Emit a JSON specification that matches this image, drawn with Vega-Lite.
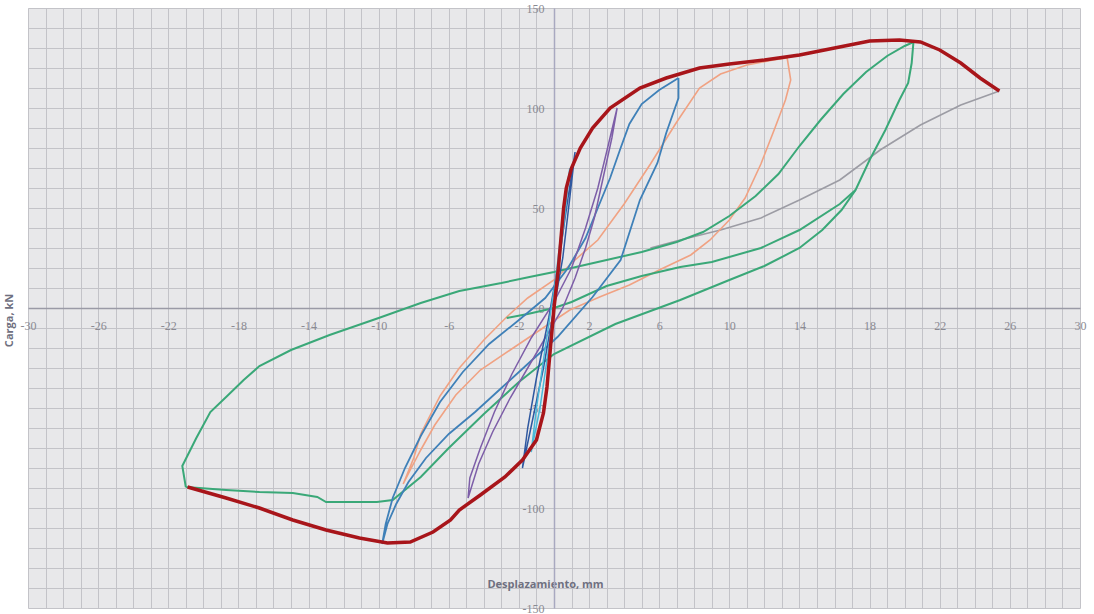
{
  "$schema": "https://vega.github.io/schema/vega-lite/v6.json",
  "width": 1052,
  "height": 600,
  "autosize": {"type": "none"},
  "padding": {"left": 28, "top": 8, "right": 14, "bottom": 6},
  "background": "#ffffff",
  "config": {"view": {"fill": "#e8e8ea", "stroke": null}},
  "datasets": {
    "curves": [
      {"s": "green", "i": 1, "x": -21.0, "y": -89.5},
      {"s": "green", "i": 2, "x": -21.2, "y": -79},
      {"s": "green", "i": 3, "x": -20.4, "y": -65},
      {"s": "green", "i": 4, "x": -19.6, "y": -52},
      {"s": "green", "i": 5, "x": -18.7, "y": -44.5},
      {"s": "green", "i": 6, "x": -17.7, "y": -36},
      {"s": "green", "i": 7, "x": -16.8, "y": -29},
      {"s": "green", "i": 8, "x": -15.0, "y": -21},
      {"s": "green", "i": 9, "x": -12.8, "y": -13.5},
      {"s": "green", "i": 10, "x": -10.0, "y": -5},
      {"s": "green", "i": 11, "x": -7.6, "y": 2.5},
      {"s": "green", "i": 12, "x": -5.4, "y": 8.5},
      {"s": "green", "i": 13, "x": -3.0, "y": 12.5},
      {"s": "green", "i": 14, "x": -1.4, "y": 15.5},
      {"s": "green", "i": 15, "x": 0.0, "y": 18},
      {"s": "green", "i": 16, "x": 2.5, "y": 23},
      {"s": "green", "i": 17, "x": 5.0, "y": 28},
      {"s": "green", "i": 18, "x": 7.0, "y": 33},
      {"s": "green", "i": 19, "x": 8.5, "y": 38},
      {"s": "green", "i": 20, "x": 10.0, "y": 46},
      {"s": "green", "i": 21, "x": 11.5, "y": 56},
      {"s": "green", "i": 22, "x": 12.8, "y": 67},
      {"s": "green", "i": 23, "x": 14.0, "y": 81},
      {"s": "green", "i": 24, "x": 15.2, "y": 94},
      {"s": "green", "i": 25, "x": 16.5, "y": 107},
      {"s": "green", "i": 26, "x": 17.8, "y": 118},
      {"s": "green", "i": 27, "x": 19.0, "y": 126},
      {"s": "green", "i": 28, "x": 20.0, "y": 131},
      {"s": "green", "i": 29, "x": 20.5, "y": 133},
      {"s": "green", "i": 30, "x": 20.4, "y": 122.5},
      {"s": "green", "i": 31, "x": 20.2, "y": 112.5},
      {"s": "green", "i": 32, "x": 19.7, "y": 104},
      {"s": "green", "i": 33, "x": 18.9, "y": 89},
      {"s": "green", "i": 34, "x": 18.0, "y": 74},
      {"s": "green", "i": 35, "x": 17.2, "y": 59},
      {"s": "green", "i": 36, "x": 16.4, "y": 49},
      {"s": "green", "i": 37, "x": 15.3, "y": 39},
      {"s": "green", "i": 38, "x": 14.0, "y": 30},
      {"s": "green", "i": 39, "x": 12.0, "y": 21},
      {"s": "green", "i": 40, "x": 10.0, "y": 14},
      {"s": "green", "i": 41, "x": 7.2, "y": 4},
      {"s": "green", "i": 42, "x": 3.5, "y": -8},
      {"s": "green", "i": 43, "x": 0.0, "y": -23},
      {"s": "green", "i": 44, "x": -2.0, "y": -37},
      {"s": "green", "i": 45, "x": -4.0, "y": -53},
      {"s": "green", "i": 46, "x": -6.0, "y": -70},
      {"s": "green", "i": 47, "x": -7.6, "y": -84.5},
      {"s": "green", "i": 48, "x": -9.2, "y": -96},
      {"s": "green", "i": 49, "x": -10.1, "y": -97},
      {"s": "green", "i": 50, "x": -13.0, "y": -97},
      {"s": "green", "i": 51, "x": -13.5, "y": -94.5},
      {"s": "green", "i": 52, "x": -14.9, "y": -92.5},
      {"s": "green", "i": 53, "x": -16.8, "y": -92},
      {"s": "green", "i": 54, "x": -18.7, "y": -91},
      {"s": "green", "i": 55, "x": -21.0, "y": -89.5}
    ],
    "curves2": [
      {"s": "green2", "i": 1, "x": 17.2, "y": 59},
      {"s": "green2", "i": 2, "x": 16.3, "y": 52},
      {"s": "green2", "i": 3, "x": 14.0, "y": 39},
      {"s": "green2", "i": 4, "x": 11.8, "y": 30},
      {"s": "green2", "i": 5, "x": 9.0, "y": 23},
      {"s": "green2", "i": 6, "x": 7.2, "y": 20.5},
      {"s": "green2", "i": 7, "x": 5.0, "y": 16},
      {"s": "green2", "i": 8, "x": 3.0, "y": 11},
      {"s": "green2", "i": 9, "x": 1.0, "y": 3},
      {"s": "green2", "i": 10, "x": 0.0, "y": 0},
      {"s": "green2", "i": 11, "x": -1.5, "y": -3},
      {"s": "green2", "i": 12, "x": -2.7, "y": -5}
    ],
    "gray": [
      {"s": "gray", "i": 1, "x": 25.4, "y": 108.5},
      {"s": "gray", "i": 2, "x": 23.2, "y": 101.5},
      {"s": "gray", "i": 3, "x": 20.9, "y": 91.5},
      {"s": "gray", "i": 4, "x": 18.6, "y": 79},
      {"s": "gray", "i": 5, "x": 16.3, "y": 64},
      {"s": "gray", "i": 6, "x": 14.0, "y": 54},
      {"s": "gray", "i": 7, "x": 11.8, "y": 45},
      {"s": "gray", "i": 8, "x": 9.5, "y": 39},
      {"s": "gray", "i": 9, "x": 7.2, "y": 34},
      {"s": "gray", "i": 10, "x": 5.5, "y": 30}
    ],
    "orange": [
      {"s": "orange", "i": 1, "x": -8.6, "y": -88},
      {"s": "orange", "i": 2, "x": -8.0, "y": -75},
      {"s": "orange", "i": 3, "x": -7.6, "y": -63},
      {"s": "orange", "i": 4, "x": -6.5, "y": -44},
      {"s": "orange", "i": 5, "x": -5.4, "y": -30},
      {"s": "orange", "i": 6, "x": -4.0, "y": -16},
      {"s": "orange", "i": 7, "x": -2.7, "y": -4.5},
      {"s": "orange", "i": 8, "x": -1.5, "y": 5},
      {"s": "orange", "i": 9, "x": 0.0, "y": 14},
      {"s": "orange", "i": 10, "x": 1.2, "y": 24},
      {"s": "orange", "i": 11, "x": 2.5, "y": 34},
      {"s": "orange", "i": 12, "x": 4.0, "y": 52},
      {"s": "orange", "i": 13, "x": 5.5, "y": 72},
      {"s": "orange", "i": 14, "x": 7.0, "y": 93},
      {"s": "orange", "i": 15, "x": 8.3, "y": 110},
      {"s": "orange", "i": 16, "x": 9.5, "y": 117},
      {"s": "orange", "i": 17, "x": 11.0, "y": 121.5},
      {"s": "orange", "i": 18, "x": 12.5, "y": 124},
      {"s": "orange", "i": 19, "x": 13.3, "y": 125},
      {"s": "orange", "i": 20, "x": 13.5, "y": 114},
      {"s": "orange", "i": 21, "x": 13.2, "y": 104},
      {"s": "orange", "i": 22, "x": 12.6, "y": 90},
      {"s": "orange", "i": 23, "x": 11.8, "y": 72},
      {"s": "orange", "i": 24, "x": 10.9, "y": 55},
      {"s": "orange", "i": 25, "x": 10.0, "y": 44},
      {"s": "orange", "i": 26, "x": 8.9, "y": 34},
      {"s": "orange", "i": 27, "x": 7.8, "y": 26.5},
      {"s": "orange", "i": 28, "x": 6.0, "y": 19},
      {"s": "orange", "i": 29, "x": 4.3, "y": 11.5},
      {"s": "orange", "i": 30, "x": 2.6, "y": 5.5},
      {"s": "orange", "i": 31, "x": 0.9, "y": -1},
      {"s": "orange", "i": 32, "x": -0.8, "y": -11},
      {"s": "orange", "i": 33, "x": -2.5, "y": -21},
      {"s": "orange", "i": 34, "x": -4.2, "y": -31},
      {"s": "orange", "i": 35, "x": -5.6, "y": -43.5},
      {"s": "orange", "i": 36, "x": -6.8, "y": -58.5},
      {"s": "orange", "i": 37, "x": -7.6, "y": -71},
      {"s": "orange", "i": 38, "x": -8.2, "y": -81},
      {"s": "orange", "i": 39, "x": -8.6, "y": -88}
    ],
    "blue": [
      {"s": "blue", "i": 1, "x": 7.1, "y": 115},
      {"s": "blue", "i": 2, "x": 7.1, "y": 105},
      {"s": "blue", "i": 3, "x": 6.4, "y": 87.5},
      {"s": "blue", "i": 4, "x": 5.9, "y": 72.5},
      {"s": "blue", "i": 5, "x": 4.9, "y": 54},
      {"s": "blue", "i": 6, "x": 3.8, "y": 24},
      {"s": "blue", "i": 7, "x": 2.2, "y": 5.5},
      {"s": "blue", "i": 8, "x": 0.2, "y": -14.5},
      {"s": "blue", "i": 9, "x": -1.5, "y": -28},
      {"s": "blue", "i": 10, "x": -3.0, "y": -40},
      {"s": "blue", "i": 11, "x": -4.5, "y": -52},
      {"s": "blue", "i": 12, "x": -6.0, "y": -63},
      {"s": "blue", "i": 13, "x": -7.3, "y": -75},
      {"s": "blue", "i": 14, "x": -8.3, "y": -87},
      {"s": "blue", "i": 15, "x": -9.0, "y": -98},
      {"s": "blue", "i": 16, "x": -9.5, "y": -108},
      {"s": "blue", "i": 17, "x": -9.8, "y": -118},
      {"s": "blue", "i": 18, "x": -9.6, "y": -108},
      {"s": "blue", "i": 19, "x": -9.2, "y": -95},
      {"s": "blue", "i": 20, "x": -8.5, "y": -80},
      {"s": "blue", "i": 21, "x": -7.6, "y": -64},
      {"s": "blue", "i": 22, "x": -6.5, "y": -47},
      {"s": "blue", "i": 23, "x": -5.2, "y": -32},
      {"s": "blue", "i": 24, "x": -3.7, "y": -18},
      {"s": "blue", "i": 25, "x": -2.0, "y": -6},
      {"s": "blue", "i": 26, "x": -0.5, "y": 5},
      {"s": "blue", "i": 27, "x": 0.8, "y": 20},
      {"s": "blue", "i": 28, "x": 1.8, "y": 35},
      {"s": "blue", "i": 29, "x": 2.5, "y": 50},
      {"s": "blue", "i": 30, "x": 3.2, "y": 65},
      {"s": "blue", "i": 31, "x": 3.8, "y": 80},
      {"s": "blue", "i": 32, "x": 4.3, "y": 92},
      {"s": "blue", "i": 33, "x": 5.0, "y": 102},
      {"s": "blue", "i": 34, "x": 6.0, "y": 109},
      {"s": "blue", "i": 35, "x": 7.1, "y": 115}
    ],
    "purple": [
      {"s": "purple", "i": 1, "x": 3.6, "y": 100},
      {"s": "purple", "i": 2, "x": 3.3, "y": 85},
      {"s": "purple", "i": 3, "x": 2.8, "y": 65},
      {"s": "purple", "i": 4, "x": 2.3, "y": 45},
      {"s": "purple", "i": 5, "x": 1.8, "y": 30},
      {"s": "purple", "i": 6, "x": 1.2, "y": 15},
      {"s": "purple", "i": 7, "x": 0.5, "y": 0},
      {"s": "purple", "i": 8, "x": -0.5, "y": -15},
      {"s": "purple", "i": 9, "x": -1.5, "y": -30},
      {"s": "purple", "i": 10, "x": -2.5, "y": -45},
      {"s": "purple", "i": 11, "x": -3.5, "y": -62},
      {"s": "purple", "i": 12, "x": -4.3, "y": -78},
      {"s": "purple", "i": 13, "x": -4.9, "y": -95},
      {"s": "purple", "i": 14, "x": -4.8, "y": -85},
      {"s": "purple", "i": 15, "x": -4.2, "y": -70},
      {"s": "purple", "i": 16, "x": -3.4, "y": -52},
      {"s": "purple", "i": 17, "x": -2.4, "y": -33},
      {"s": "purple", "i": 18, "x": -1.3, "y": -15},
      {"s": "purple", "i": 19, "x": 0.0, "y": 3},
      {"s": "purple", "i": 20, "x": 1.0, "y": 20},
      {"s": "purple", "i": 21, "x": 1.8, "y": 40},
      {"s": "purple", "i": 22, "x": 2.5, "y": 60},
      {"s": "purple", "i": 23, "x": 3.0, "y": 78},
      {"s": "purple", "i": 24, "x": 3.6, "y": 100}
    ],
    "navy": [
      {"s": "navy", "i": 1, "x": 1.2, "y": 78},
      {"s": "navy", "i": 2, "x": 0.9, "y": 55},
      {"s": "navy", "i": 3, "x": 0.5, "y": 25},
      {"s": "navy", "i": 4, "x": 0.0, "y": 0},
      {"s": "navy", "i": 5, "x": -0.6, "y": -30},
      {"s": "navy", "i": 6, "x": -1.2, "y": -55},
      {"s": "navy", "i": 7, "x": -1.8, "y": -80},
      {"s": "navy", "i": 8, "x": -1.5, "y": -60},
      {"s": "navy", "i": 9, "x": -1.0, "y": -35},
      {"s": "navy", "i": 10, "x": -0.3, "y": -5},
      {"s": "navy", "i": 11, "x": 0.3, "y": 25},
      {"s": "navy", "i": 12, "x": 0.8, "y": 55},
      {"s": "navy", "i": 13, "x": 1.2, "y": 78}
    ],
    "cyan": [
      {"s": "cyan", "i": 1, "x": 0.9, "y": 70},
      {"s": "cyan", "i": 2, "x": 0.6, "y": 45},
      {"s": "cyan", "i": 3, "x": 0.2, "y": 15},
      {"s": "cyan", "i": 4, "x": -0.3, "y": -20},
      {"s": "cyan", "i": 5, "x": -0.8, "y": -50},
      {"s": "cyan", "i": 6, "x": -1.3, "y": -72},
      {"s": "cyan", "i": 7, "x": -1.0, "y": -50},
      {"s": "cyan", "i": 8, "x": -0.5, "y": -20},
      {"s": "cyan", "i": 9, "x": 0.1, "y": 15},
      {"s": "cyan", "i": 10, "x": 0.5, "y": 45},
      {"s": "cyan", "i": 11, "x": 0.9, "y": 70}
    ],
    "red": [
      {"s": "red", "i": 1, "x": 25.4, "y": 108.5},
      {"s": "red", "i": 2, "x": 24.3, "y": 115},
      {"s": "red", "i": 3, "x": 23.2, "y": 122.5},
      {"s": "red", "i": 4, "x": 22.0, "y": 129},
      {"s": "red", "i": 5, "x": 20.9, "y": 133},
      {"s": "red", "i": 6, "x": 19.7, "y": 134},
      {"s": "red", "i": 7, "x": 18.0, "y": 133.5},
      {"s": "red", "i": 8, "x": 16.0, "y": 130},
      {"s": "red", "i": 9, "x": 14.0, "y": 126.5},
      {"s": "red", "i": 10, "x": 12.0, "y": 124},
      {"s": "red", "i": 11, "x": 10.0, "y": 122},
      {"s": "red", "i": 12, "x": 8.3, "y": 120},
      {"s": "red", "i": 13, "x": 6.4, "y": 115},
      {"s": "red", "i": 14, "x": 4.9, "y": 110},
      {"s": "red", "i": 15, "x": 3.2, "y": 100},
      {"s": "red", "i": 16, "x": 2.2, "y": 90},
      {"s": "red", "i": 17, "x": 1.5, "y": 80},
      {"s": "red", "i": 18, "x": 1.0, "y": 70},
      {"s": "red", "i": 19, "x": 0.7, "y": 60},
      {"s": "red", "i": 20, "x": 0.55, "y": 50},
      {"s": "red", "i": 21, "x": 0.25, "y": 20},
      {"s": "red", "i": 22, "x": 0.0, "y": 0},
      {"s": "red", "i": 23, "x": -0.2, "y": -19.5},
      {"s": "red", "i": 24, "x": -0.4, "y": -39.5},
      {"s": "red", "i": 25, "x": -0.6, "y": -52.5},
      {"s": "red", "i": 26, "x": -1.0, "y": -66},
      {"s": "red", "i": 27, "x": -1.8, "y": -76},
      {"s": "red", "i": 28, "x": -2.8, "y": -84.5},
      {"s": "red", "i": 29, "x": -4.2, "y": -93.5},
      {"s": "red", "i": 30, "x": -5.4, "y": -101},
      {"s": "red", "i": 31, "x": -5.9, "y": -106},
      {"s": "red", "i": 32, "x": -6.9, "y": -112},
      {"s": "red", "i": 33, "x": -8.2, "y": -117},
      {"s": "red", "i": 34, "x": -9.5, "y": -117.5},
      {"s": "red", "i": 35, "x": -11.1, "y": -115},
      {"s": "red", "i": 36, "x": -13.0, "y": -111},
      {"s": "red", "i": 37, "x": -14.9, "y": -106},
      {"s": "red", "i": 38, "x": -16.8, "y": -100},
      {"s": "red", "i": 39, "x": -18.7, "y": -95},
      {"s": "red", "i": 40, "x": -20.9, "y": -89.5}
    ]
  },
  "encoding": {
    "x": {
      "field": "x", "type": "quantitative",
      "scale": {"domain": [-30, 30], "nice": false, "zero": false},
      "axis": {
        "title": "Desplazamiento, mm",
        "titleX": 517, "titleY": 270, "titleAnchor": null,
        "titleFont": "Open Sans", "titleFontSize": 11, "titleFontWeight": "bold", "titleColor": "#6f7080",
        "offset": -300,
        "values": [-30,-29,-28,-27,-26,-25,-24,-23,-22,-21,-20,-19,-18,-17,-16,-15,-14,-13,-12,-11,-10,-9,-8,-7,-6,-5,-4,-3,-2,-1,0,1,2,3,4,5,6,7,8,9,10,11,12,13,14,15,16,17,18,19,20,21,22,23,24,25,26,27,28,29,30],
        "labelExpr": "(datum.value + 30) % 4 == 0 ? '' + datum.value : ''",
        "labelOverlap": false, "labelFlush": false,
        "labelFont": "Liberation Serif", "labelFontSize": 12, "labelColor": "#8a8a92", "labelPadding": 12,
        "ticks": false,
        "grid": true, "gridColor": "#c3c3c8", "gridWidth": 1,
        "domainColor": "#9a9aa6", "domainWidth": 1.5
      }
    },
    "y": {
      "field": "y", "type": "quantitative",
      "scale": {"domain": [-150, 150], "nice": false, "zero": false},
      "axis": {
        "title": "Carga, kN",
        "titleX": -540, "titleY": 312, "titleAnchor": null, "titleAngle": -90,
        "titleFont": "Open Sans", "titleFontSize": 11, "titleFontWeight": "bold", "titleColor": "#6f7080",
        "offset": -526,
        "values": [-150,-140,-130,-120,-110,-100,-90,-80,-70,-60,-50,-40,-30,-20,-10,0,10,20,30,40,50,60,70,80,90,100,110,120,130,140,150],
        "labelExpr": "datum.value % 50 == 0 ? '' + datum.value : ''",
        "labelOverlap": false, "labelFlush": false,
        "labelFont": "Liberation Serif", "labelFontSize": 12, "labelColor": "#8a8a92", "labelPadding": 10,
        "ticks": false,
        "grid": true, "gridColor": "#c3c3c8", "gridWidth": 1,
        "domainColor": "#a8a8c0", "domainWidth": 1.5
      }
    },
    "order": {"field": "i", "type": "quantitative"},
    "color": {
      "field": "s", "type": "nominal", "legend": null,
      "scale": {
        "domain": ["green", "green2", "gray", "orange", "blue", "purple", "navy", "cyan", "red"],
        "range": ["#3aa878", "#3aa878", "#9c9ca4", "#f0a283", "#3f80b8", "#7d5ea8", "#2f58a0", "#4ab8d8", "#a8151a"]
      }
    }
  },
  "layer": [
    {"data": {"name": "gray"}, "mark": {"type": "line", "strokeWidth": 1.6}},
    {"data": {"name": "orange"}, "mark": {"type": "line", "strokeWidth": 1.6}},
    {"data": {"name": "curves"}, "mark": {"type": "line", "strokeWidth": 2}},
    {"data": {"name": "curves2"}, "mark": {"type": "line", "strokeWidth": 2}},
    {"data": {"name": "blue"}, "mark": {"type": "line", "strokeWidth": 1.8}},
    {"data": {"name": "purple"}, "mark": {"type": "line", "strokeWidth": 1.5}},
    {"data": {"name": "navy"}, "mark": {"type": "line", "strokeWidth": 1.5}},
    {"data": {"name": "cyan"}, "mark": {"type": "line", "strokeWidth": 1.5}},
    {"data": {"name": "red"}, "mark": {"type": "line", "strokeWidth": 3.5}}
  ]
}
